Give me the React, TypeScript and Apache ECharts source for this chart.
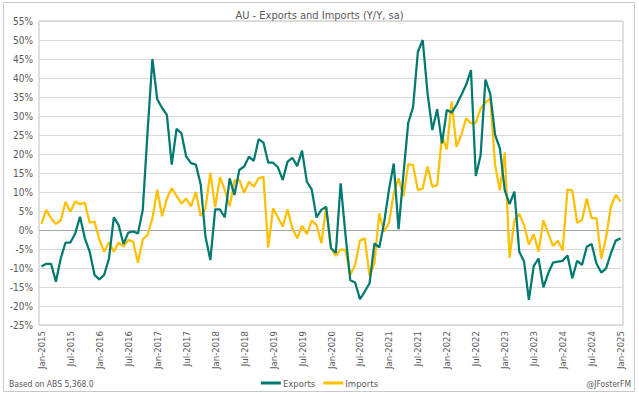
import React, { useEffect, useRef } from "react";
import * as echarts from "echarts";

const monthNames = ["Jan", "Feb", "Mar", "Apr", "May", "Jun", "Jul", "Aug", "Sep", "Oct", "Nov", "Dec"];
const startYear = 2015;
const monthCount = 121;
const categories: string[] = [];
for (let i = 0; i < monthCount; i++) {
  categories.push(`${monthNames[i % 12]}-${startYear + Math.floor(i / 12)}`);
}

const exportsYY = [
  -9.6, -8.9, -8.9, -13.6, -7.5, -3.3, -3.3, -0.9, 3.5, -2.2, -5.7, -11.8,
  -13.0, -11.8, -7.5, 3.3, 1.3, -3.7, -0.7, -0.4, -0.9, 5.3, 26.0, 45.0,
  34.4, 32.1, 30.3, 17.2, 26.6, 25.5, 19.3, 17.6, 17.2, 12.0, -1.8, -7.9,
  5.4, 5.4, 3.3, 13.6, 9.2, 15.8, 16.7, 19.3, 18.2, 23.9, 23.0, 17.7,
  17.7, 16.5, 13.2, 18.0, 19.0, 16.8, 20.9, 12.7, 10.7, 3.3, 5.3, 6.1,
  -4.8, -6.0, 12.3, -1.3, -13.2, -13.8, -18.2, -16.2, -14.0, -3.5, -4.6, 1.9,
  10.5, 17.5, 0.2, 14.5, 28.2, 32.3, 46.9, 50.0, 36.0, 26.3, 31.8, 22.8,
  31.6, 30.9, 32.9, 35.5, 38.2, 42.1, 14.2, 19.7, 39.6, 35.8, 25.0, 21.5,
  10.5, 6.8, 10.1, -5.7, -8.3, -18.4, -9.5, -7.5, -15.1, -11.4, -8.6, -8.3,
  -8.1, -6.7, -12.7, -8.1, -9.2, -4.4, -3.7, -8.8, -11.2, -10.1, -6.1, -2.8,
  -2.2,
];

const importsYY = [
  1.6, 5.3, 3.1, 1.6, 2.5, 7.4, 4.8, 7.5, 6.8, 7.2, 1.9, 2.2,
  -2.5, -5.7, -3.3, -5.7, -3.3, -4.4, -2.6, -3.1, -8.6, -2.5, -1.3, 3.1,
  10.6, 3.6, 8.3, 11.0, 9.0, 6.9, 8.3, 6.2, 10.0, 3.7, 5.7, 15.1,
  6.0, 13.9, 10.5, 6.3, 13.0, 13.2, 9.8, 12.7, 11.4, 13.6, 14.0, -4.6,
  5.7, 3.3, 0.9, 5.4, 0.4, -2.2, 1.1, -1.1, 2.5, 1.3, -3.5, 6.0,
  -4.8, -6.8, -5.1, -5.3, -11.8, -9.2, -2.8, -2.2, -12.1, -8.8, 4.4, -0.4,
  1.8, 9.6, 13.6, 8.8, 17.3, 17.1, 10.5, 10.9, 16.7, 11.4, 11.8, 24.7,
  21.2, 33.8, 21.9, 25.0, 29.4, 28.1, 28.2, 32.0, 33.5, 34.6, 17.1, 10.4,
  20.4, -7.3, 2.6, 4.2, 1.3, -3.8, -1.1, -5.7, 2.6, -0.9, -4.2, -2.8,
  -5.4, 10.7, 10.4, 1.9, 2.6, 8.3, 3.1, 3.1, -7.5, -1.9, 6.3, 9.2,
  7.5,
];

const seriesNames = ["Exports", "Imports"];
const titleText = "AU - Exports and Imports (Y/Y, sa)";
const sourceText = "Based on ABS 5,368.0";
const creditText = "@JFosterFM";

const FONT = "'Liberation Sans Narrow', 'DejaVu Sans Condensed', 'Liberation Sans', sans-serif";
const TEXT_COLOR = "#595959";
const EXPORT_COLOR = "#007A70";
const IMPORT_COLOR = "#FFC000";

export default function App() {
  const ref = useRef<HTMLDivElement>(null);

  useEffect(() => {
    if (!ref.current) return;
    const chart = echarts.init(ref.current, undefined, { renderer: "svg" });
    chart.setOption({
      animation: false,
      backgroundColor: "#ffffff",
      textStyle: { fontFamily: FONT },
      title: {
        text: titleText,
        left: "center",
        top: 5,
        textStyle: { fontFamily: FONT, fontSize: 11, fontWeight: "normal", color: TEXT_COLOR },
      },
      grid: { left: 39, right: 16, top: 21, bottom: 69, show: true, borderColor: "#bfbfbf", borderWidth: 1 },
      legend: {
        data: seriesNames,
        top: 373,
        left: "center",
        icon: "rect",
        itemWidth: 20,
        itemHeight: 3,
        itemGap: 8,
        textStyle: { fontFamily: FONT, fontSize: 9.5, color: TEXT_COLOR, padding: [0, 0, 0, -3] },
      },
      xAxis: {
        type: "category",
        data: categories,
        boundaryGap: true,
        axisLine: { show: false },
        axisTick: { show: false },
        axisLabel: {
          interval: 5,
          rotate: 90,
          margin: 6,
          fontFamily: FONT,
          fontSize: 9.5,
          color: TEXT_COLOR,
        },
        splitLine: { show: false },
      },
      yAxis: {
        type: "value",
        min: -25,
        max: 55,
        interval: 5,
        axisLine: { show: false },
        axisTick: { show: false },
        axisLabel: {
          formatter: "{value}%",
          margin: 6,
          fontFamily: FONT,
          fontSize: 10,
          color: TEXT_COLOR,
        },
        splitLine: { lineStyle: { color: "#d9d9d9", width: 1 } },
      },
      series: [
        {
          name: seriesNames[0],
          type: "line",
          data: exportsYY,
          symbol: "none",
          lineStyle: { color: EXPORT_COLOR, width: 2.25 },
          itemStyle: { color: EXPORT_COLOR },
          z: 3,
          markLine: {
            silent: true,
            symbol: "none",
            label: { show: false },
            lineStyle: { color: "#a6a6a6", type: "solid", width: 1 },
            data: [{ yAxis: 0 }],
            z: 1,
          },
        },
        {
          name: seriesNames[1],
          type: "line",
          data: importsYY,
          symbol: "none",
          lineStyle: { color: IMPORT_COLOR, width: 2.25 },
          itemStyle: { color: IMPORT_COLOR },
          z: 2,
        },
      ],
      graphic: [
        {
          type: "rect",
          shape: { x: 3.5, y: 2.5, width: 631, height: 389 },
          style: { fill: "none", stroke: "#c8c8c8", lineWidth: 1 },
          silent: true,
        },
        {
          type: "text",
          left: 9,
          top: 379,
          style: { text: sourceText, fontFamily: FONT, fontSize: 8.5, fill: TEXT_COLOR },
        },
        {
          type: "text",
          right: 8,
          top: 379,
          style: { text: creditText, fontFamily: FONT, fontSize: 8.5, fill: TEXT_COLOR },
        },
      ],
    });
    return () => chart.dispose();
  }, []);

  return (
    <div
      ref={ref}
      style={{ position: "absolute", left: 0, top: 0, width: 639, height: 394 }}
    />
  );
}
